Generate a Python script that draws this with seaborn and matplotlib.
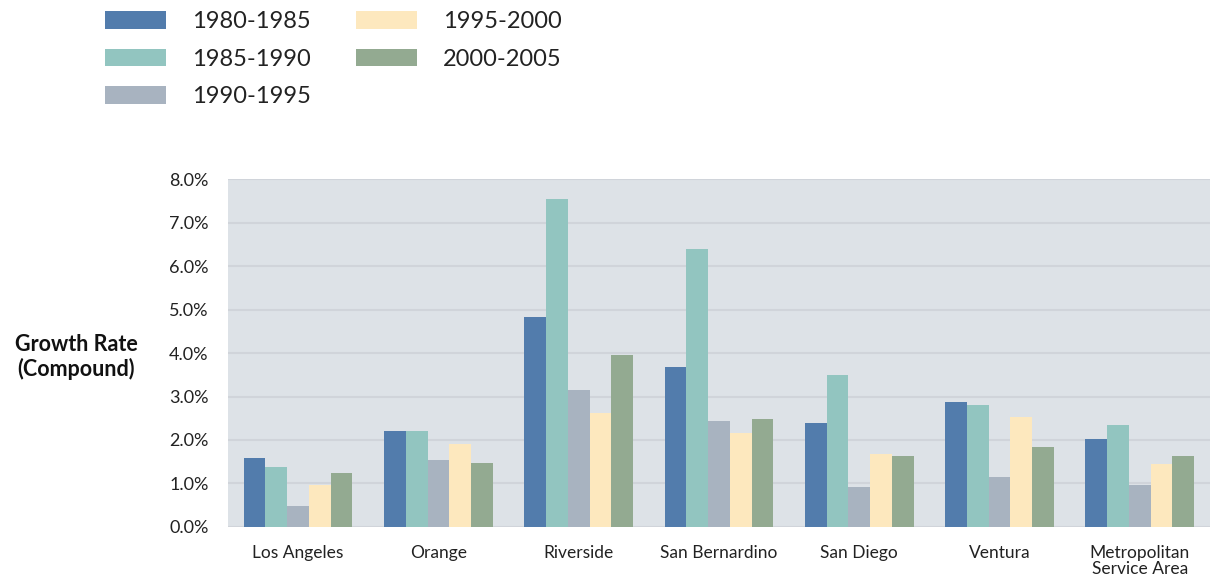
import matplotlib
matplotlib.use("Agg")
import matplotlib.pyplot as plt
import seaborn as sns
import pandas as pd
from matplotlib.patches import Patch

regions = ["Los Angeles", "Orange", "Riverside", "San Bernardino", "San Diego",
           "Ventura", "Metropolitan\nService Area"]
periods = ["1980-1985", "1985-1990", "1990-1995", "1995-2000", "2000-2005"]
g_1980_1985 = [1.58, 2.20, 4.82, 3.67, 2.39, 2.87, 2.02]
g_1985_1990 = [1.39, 2.20, 7.53, 6.40, 3.49, 2.81, 2.34]
g_1990_1995 = [0.48, 1.53, 3.15, 2.44, 0.91, 1.16, 0.96]
g_1995_2000 = [0.97, 1.91, 2.63, 2.15, 1.68, 2.54, 1.44]
g_2000_2005 = [1.25, 1.48, 3.96, 2.49, 1.64, 1.83, 1.64]
yticks = [0, 1, 2, 3, 4, 5, 6, 7, 8]
colors = ["#527cac", "#92c5c0", "#a8b3c0", "#fde8be", "#93aa91"]

series = [g_1980_1985, g_1985_1990, g_1990_1995, g_1995_2000, g_2000_2005]
rows = []
for p, vals in zip(periods, series):
    for r, v in zip(regions, vals):
        rows.append({"Region": r, "Period": p, "Growth": v})
df = pd.DataFrame(rows)

sns.set_style("white")
plt.rcParams["font.family"] = ["Lato", "DejaVu Sans"]

fig = plt.figure(figsize=(12.1, 5.86), dpi=100)
ax = fig.add_axes([0.1884, 0.1007, 0.8116, 0.5938])
ax.set_facecolor("#dde2e7")

sns.barplot(data=df, x="Region", y="Growth", hue="Period", order=regions,
            hue_order=periods, palette=colors, width=0.775, gap=0,
            linewidth=0, saturation=1, ax=ax, legend=False, zorder=3)

ax.set_ylim(0, 8)
ax.set_xlim(-0.5, len(regions) - 0.5)
ax.set_yticks(yticks)
ax.set_yticklabels([f"{t:.1f}%" for t in yticks], fontsize=13, color="#222222")
ax.yaxis.grid(True, color="#d0d4da", linewidth=1.5, zorder=0)
ax.set_axisbelow(True)
for s in ax.spines.values():
    s.set_visible(False)
ax.tick_params(axis="both", length=0)
ax.tick_params(axis="y", pad=14)
ax.tick_params(axis="x", pad=13)
for lbl in ax.get_xticklabels():
    lbl.set_fontsize(12.5)
    lbl.set_color("#222222")
    lbl.set_linespacing(1.0)
    lbl.set_verticalalignment("top")
ax.set_xlabel("")
ax.set_ylabel("")

fig.text(0.063, 0.391, "Growth Rate\n(Compound)", fontsize=15.5, fontweight="bold",
         ha="center", va="center", linespacing=1.2, color="#111111")

handles = [Patch(facecolor=c, edgecolor="none") for c in colors]
leg = fig.legend(handles, periods, loc="upper left", bbox_to_anchor=(0.069, 1.017),
                 ncol=2, frameon=False, fontsize=17, handlelength=2.6,
                 handleheight=0.75, handletextpad=1.1, columnspacing=1.9,
                 labelspacing=0.7)
for t in leg.get_texts():
    t.set_color("#222222")

fig.savefig("out.png", dpi=100)
